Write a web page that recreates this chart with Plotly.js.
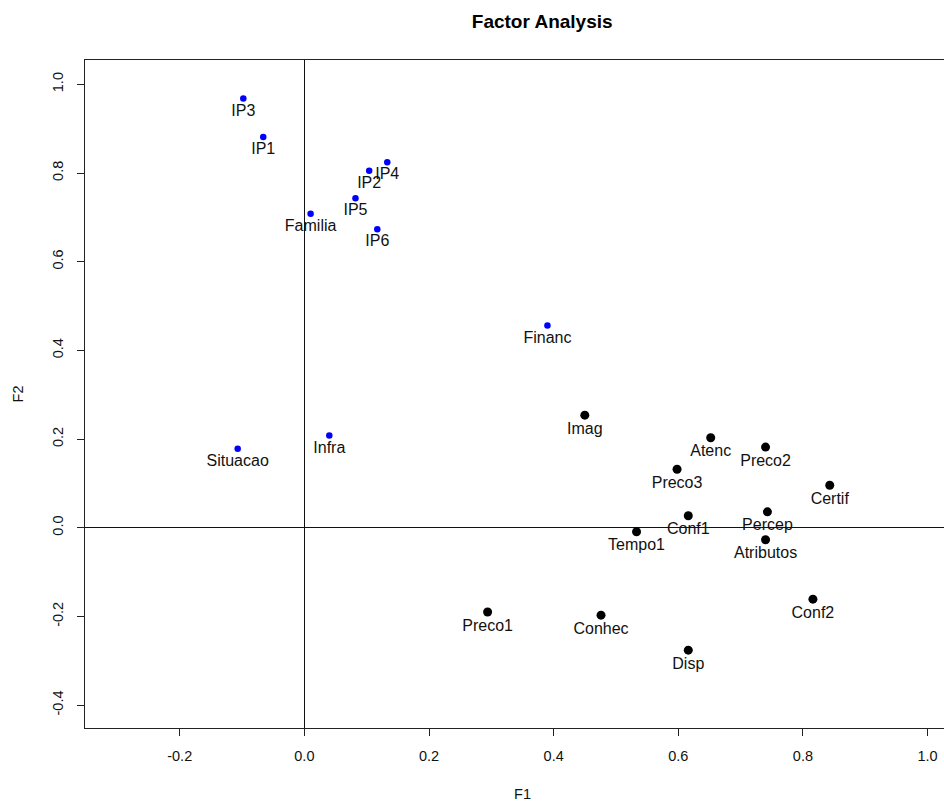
<!DOCTYPE html>
<html>
<head>
<meta charset="utf-8">
<script src="https://cdn.plot.ly/plotly-3.0.1.min.js"></script>
<style>
html, body { margin:0; padding:0; overflow:hidden; background:#fff; }
#chart { width:1000px; height:802px; }
</style>
</head>
<body>
<div id="chart"></div>
<script>
// Blue group (F1, F2 loadings)
const blueLabels = ["IP3","IP1","IP2","IP4","IP5","Familia","IP6","Financ","Situacao","Infra"];
const blueF1     = [-0.098,-0.066,0.104,0.133,0.082,0.010,0.117,0.390,-0.107,0.040];
const blueF2     = [0.968,0.881,0.805,0.824,0.743,0.708,0.673,0.456,0.178,0.208];

// Black group
const blackLabels = ["Imag","Atenc","Preco2","Preco3","Certif","Conf1","Percep","Tempo1","Atributos","Conf2","Preco1","Conhec","Disp"];
const blackF1     = [0.450,0.652,0.740,0.598,0.843,0.616,0.743,0.533,0.740,0.816,0.294,0.476,0.616];
const blackF2     = [0.254,0.203,0.182,0.132,0.096,0.027,0.036,-0.009,-0.027,-0.161,-0.190,-0.197,-0.276];

const xTicks = [-0.2,0.0,0.2,0.4,0.6,0.8,1.0];
const yTicks = [-0.4,-0.2,0.0,0.2,0.4,0.6,0.8,1.0];
const fmt = v => v.toFixed(1);

const fontFam = "Liberation Sans, Arial, Helvetica, sans-serif";

const traces = [
  {
    x: blueF1, y: blueF2, text: blueLabels,
    type: "scatter", mode: "markers+text",
    textposition: "bottom center",
    marker: { color: "#0000ff", size: 6.5 },
    textfont: { family: fontFam, size: 16, color: "#111" },
    hoverinfo: "text", cliponaxis: false
  },
  {
    x: blackF1, y: blackF2, text: blackLabels,
    type: "scatter", mode: "markers+text",
    textposition: "bottom center",
    marker: { color: "#000000", size: 9 },
    textfont: { family: fontFam, size: 16, color: "#111" },
    hoverinfo: "text", cliponaxis: false
  }
];

const layout = {
  width: 1000, height: 802,
  margin: { l: 85, r: 40, t: 60, b: 74 },
  paper_bgcolor: "#fff", plot_bgcolor: "#fff",
  showlegend: false,
  font: { family: fontFam, color: "#111", size: 14 },
  title: {
    text: "<b>Factor Analysis</b>",
    font: { family: fontFam, size: 19, color: "#000" },
    x: 0.5225, xref: "paper", xanchor: "center",
    y: 0.973, yref: "container", yanchor: "middle"
  },
  xaxis: {
    range: [-0.352, 1.052],
    tickvals: xTicks, ticktext: xTicks.map(fmt),
    ticks: "outside", ticklen: 7, tickcolor: "#222", tickwidth: 1,
    ticklabelstandoff: 8,
    tickfont: { family: fontFam, size: 14.5, color: "#111" },
    showgrid: false,
    showline: true, mirror: true, linecolor: "#222", linewidth: 1,
    zeroline: true, zerolinecolor: "#111", zerolinewidth: 1,
    title: { text: "F1", font: { family: fontFam, size: 14.5, color: "#111" }, standoff: 28 },
    fixedrange: true
  },
  yaxis: {
    range: [-0.4515, 1.0548],
    tickvals: yTicks, ticktext: yTicks.map(fmt),
    tickangle: -90,
    ticks: "outside", ticklen: 7, tickcolor: "#222", tickwidth: 1,
    ticklabelstandoff: 8,
    tickfont: { family: fontFam, size: 14.5, color: "#111" },
    showgrid: false,
    showline: true, mirror: true, linecolor: "#222", linewidth: 1,
    zeroline: true, zerolinecolor: "#111", zerolinewidth: 1,
    title: { text: "F2", font: { family: fontFam, size: 14.5, color: "#111" }, standoff: 23 },
    fixedrange: true
  }
};

Plotly.newPlot("chart", traces, layout, { displayModeBar: false, staticPlot: true });
</script>
</body>
</html>
